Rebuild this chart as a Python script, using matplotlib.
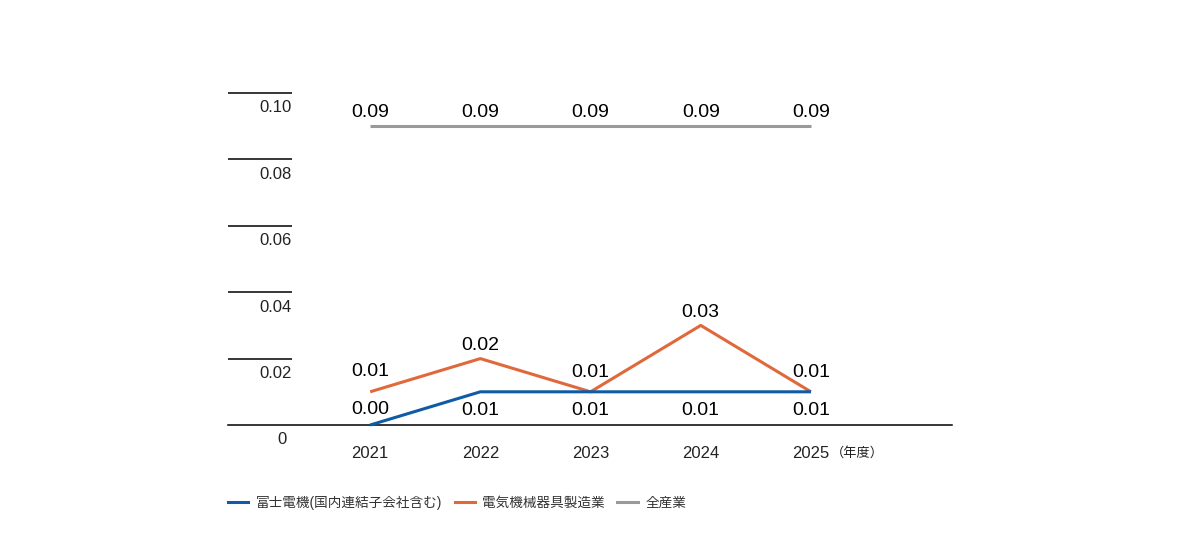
import matplotlib
matplotlib.use("Agg")
import matplotlib.pyplot as plt
from matplotlib.lines import Line2D

plt.rcParams['font.family'] = ['Liberation Sans', 'Noto Sans CJK JP', 'DejaVu Sans']

years = [2021, 2022, 2023, 2024, 2025]
fuji = [0.00, 0.01, 0.01, 0.01, 0.01]
electric = [0.01, 0.02, 0.01, 0.03, 0.01]
all_ind = [0.09, 0.09, 0.09, 0.09, 0.09]
yticks = [0.02, 0.04, 0.06, 0.08, 0.10]
ytick_labels = ["0.02", "0.04", "0.06", "0.08", "0.10"]
series_names = ["富士電機(国内連結子会社含む)", "電気機械器具製造業", "全産業"]
colors = ["#0f5ba5", "#e0683a", "#999999"]

# label offsets in pixels (positioning only)
fuji_off = [15, -19, -19, -19, -19]
elec_off = [20, 13, 19, 13, 19]
all_off = [14, 14, 14, 14, 14]

W, H = 1180, 560
fig = plt.figure(figsize=(W / 100, H / 100), dpi=100)
ax = fig.add_axes([228 / W, (H - 425) / H, (952 - 228) / W, (425 - 93) / H])
ax.set_xlim(2019.71, 2026.28)
ax.set_ylim(0, 0.10)
ax.axis('off')

ytr = ax.get_yaxis_transform()
seg_end = (292 - 228) / 724

# baseline
ax.plot([0, 1], [0, 0], transform=ytr, color='black', lw=1.1, clip_on=False)
ax.annotate("0", xy=(seg_end, 0), xycoords=ytr, xytext=(-5, -15), textcoords='offset pixels',
            ha='right', va='center', fontsize=12, color='#222222')
# short grid segments with labels under them
for yv, lab in zip(yticks, ytick_labels):
    ax.plot([0, seg_end], [yv, yv], transform=ytr, color='black', lw=1.1, clip_on=False,
            solid_capstyle='butt')
    ax.annotate(lab, xy=(seg_end, yv), xycoords=ytr, xytext=(0, -15), textcoords='offset pixels',
                ha='right', va='center', fontsize=12, color='#222222')

# x tick labels
for yr in years:
    ax.annotate(str(yr), xy=(yr, 0), xytext=(0, -28), textcoords='offset pixels',
                ha='center', va='center', fontsize=12, color='#222222')
ax.annotate("（年度）", xy=(years[-1], 0), xytext=(20, -28), textcoords='offset pixels',
            ha='left', va='center', fontsize=9.5, color='#222222')

# lines
ax.plot(years, all_ind, color=colors[2], lw=2.2, clip_on=False, zorder=3, solid_capstyle='butt')
ax.plot(years, electric, color=colors[1], lw=2.2, clip_on=False, zorder=4, solid_capstyle='butt')
ax.plot(years, fuji, color=colors[0], lw=2.2, clip_on=False, zorder=5, solid_capstyle='butt')

for vals, offs in [(all_ind, all_off), (electric, elec_off), (fuji, fuji_off)]:
    for x, v, o in zip(years, vals, offs):
        ax.annotate(f"{v:.2f}", xy=(x, v), xytext=(0, o), textcoords='offset pixels',
                    ha='center', va='center', fontsize=14, color='black')

# legend
handles = [Line2D([], [], color=c, lw=2.2) for c in colors]
leg = fig.legend(handles, series_names, loc='center left', bbox_to_anchor=(228 / W, (H - 503) / H),
                 ncol=3, frameon=False, fontsize=9.8, handlelength=1.5, handletextpad=0.55,
                 columnspacing=0.9, borderaxespad=0, borderpad=0)
for t in leg.get_texts():
    t.set_color('#333333')

fig.savefig("out.png", dpi=100)
